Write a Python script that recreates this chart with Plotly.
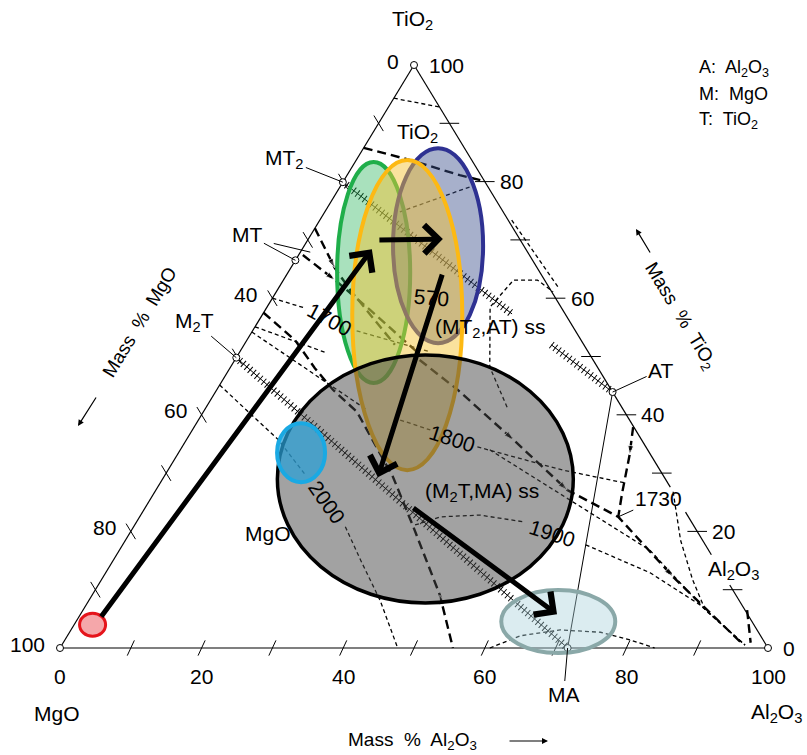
import math
import plotly.graph_objects as go

# ---------------- compositions, mass % (Al2O3, TiO2); MgO is the balance ----------------
compound_names = ["MT2", "MT", "M2T", "AT", "MA"]
compound_al2o3 = [0.0, 0.0, 0.0, 56.1, 71.7]
compound_tio2 = [79.9, 66.5, 49.8, 43.9, 0.0]

vertex_al2o3 = [0.0, 100.0, 0.0]      # MgO, Al2O3, TiO2 corners
vertex_tio2 = [0.0, 0.0, 100.0]

tick_values = [10, 20, 30, 40, 50, 60, 70, 80, 90]
al2o3_labels = [0, 20, 40, 60, 80, 100]
tio2_labels = [0, 20, 40, 60, 80, 100]
mgo_labels = [100, 80, 60, 40, 0]

# right edge is interrupted where labels sit (TiO2 % ranges that are drawn)
right_edge_runs = [(100.0, 27.6), (23.3, 16.0), (10.8, 0.0)]

# primary-field boundaries (heavy dashes)
bnd_tio2 = [(0, 85.8), (7.6, 83.7), (15.9, 81.1), (19.9, 80.1)]
bnd_mt_a = [(0, 72.0), (6.2, 65.2), (10.3, 61.4), (21.3, 52.0)]
bnd_mt_b = [(0.6, 67.4), (7.3, 63.1), (14.8, 58.0), (25.7, 50.3)]
bnd_mgo_spinel = [(0, 57.5), (6.8, 52.8), (12.0, 48.0), (16.4, 44.3), (21.7, 40.5),
                  (32.4, 29.3), (39.5, 20.8), (49.1, 9.1), (55.5, 0)]
bnd_spinel_at = [(26.1, 49.4), (34.0, 44.3), (46.2, 35.7), (58.1, 27.1),
                 (67.6, 22.5), (80.5, 12.2), (96.3, 0.5)]
bnd_at_1730 = [(62.0, 37.9), (63.9, 33.1), (66.1, 26.6), (67.6, 22.5)]
bnd_corner = [(93.8, 6.5), (97.1, 0.9)]

# isotherms and minor boundaries (light dashes)
iso_top = [(0, 94.3), (7.2, 92.8)]
iso_upper = [(10.6, 74.8), (18.9, 79.4)]
iso_1700_a = [(0, 60.0), (5.5, 58.3)]
iso_1700_b = [(14.7, 54.4), (26.9, 50.8)]
iso_m2t_a = [(0, 55.1), (12.4, 50.6)]
iso_m2t_b = [(0, 54.2), (23.0, 40.8)]
iso_2000_a = [(0, 45.1), (13.0, 35.7), (19.8, 29.7)]
iso_2000_b = [(29.9, 20.8), (34.9, 15.1), (41.1, 8.2), (47.7, 0)]
iso_1800_a = [(28.5, 39.1), (33.6, 37.4)]
iso_1800_b = [(41.7, 34.5), (55.8, 30.5), (65.7, 28.3)]
iso_1900_a = [(39.6, 21.1), (42.5, 22.5), (47.9, 22.8), (54.9, 21.6)]
iso_1900_b = [(65.4, 17.7), (76.9, 12.9), (86.7, 7.4), (96.5, 0.5)]
iso_lower = [(43.7, 34.0), (57.9, 26.2), (74.9, 16.8), (87.3, 7.0), (96.5, 0.5)]
iso_right = [(73.2, 26.8), (78.4, 18.5), (83.5, 11.7), (87.9, 6.5), (96.5, 0.5)]
iso_spinel_dome = [(60.7, 0), (64.0, 2.1), (69.1, 3.1), (75.0, 2.7), (79.8, 1.4), (84.0, 0)]
iso_ss_arc = [(42.5, 41.3), (36.6, 48.2), (31.5, 58.5), (32.5, 63.1), (35.9, 63.1), (39.1, 61.1)]
iso_at_side = [(27.1, 73.4), (39.4, 61.9)]

# solid-solution joins (hatched)
ss_m2t_ma = [(0.0, 49.8), (71.7, 0.0)]
ss_mt2_at_a = [(0.0, 79.9), (35.2, 57.3)]
ss_mt2_at_b = [(43.4, 52.0), (56.1, 43.9)]

# tie line AT - MA
tie_at_ma = [(56.1, 43.9), (71.7, 0.0)]

# highlighted composition regions: centre (Al2O3, TiO2) and half extents
region_names = ["green", "blue", "yellow", "grey", "cyan", "teal", "red"]
region_al2o3 = [12.1, 18.9, 20.5, 37.1, 17.3, 68.1, 2.6]
region_tio2 = [64.4, 69.0, 57.1, 29.0, 33.5, 4.55, 4.0]
region_half_x = [5.16, 6.36, 7.77, 20.9, 3.39, 8.05, 1.84]
region_half_ti = [18.95, 16.72, 26.59, 21.27, 5.06, 5.40, 1.97]

# path arrows between regions (tail -> head), (Al2O3, TiO2)
arrow_tail = [(3.1, 5.15), (9.9, 70.0), (21.9, 64.3), (37.6, 24.2)]
arrow_head = [(9.85, 68.4), (19.0, 70.15), (30.25, 29.3), (67.3, 5.8)]

# ---------------- geometry of the drawing ----------------
W, H = 807, 755
LEFT_PX, RIGHT_PX, BASE_PX, APEX_PX = 60, 768, 648, 65
SX = (RIGHT_PX - LEFT_PX) / 100.0
SY = (BASE_PX - APEX_PX) / 100.0
X_RANGE = [-LEFT_PX / SX, (W - LEFT_PX) / SX]
Y_RANGE = [-(H - BASE_PX) / SY, BASE_PX / SY]
EDGE_DEG = math.degrees(math.atan2(100 * SY, 50 * SX))
FONT = "Liberation Sans, Arial, sans-serif"
FS = 21


def cart(al, ti):
    return al + ti / 2.0, ti


def xs_ys(points):
    return [p[0] + p[1] / 2.0 for p in points], [p[1] for p in points]


def paper(px, py):
    return px / W, 1 - py / H


fig = go.Figure()


def add_line(points, width=1.2, dash="solid", color="black"):
    x, y = xs_ys(points)
    fig.add_trace(go.Scatter(x=x, y=y, mode="lines", hoverinfo="skip",
                             line=dict(color=color, width=width, dash=dash)))


def add_flow_arrow(points, idx, reverse=False):
    # small arrowhead on a boundary, pointing along the boundary at vertex idx
    prev = points[idx + 1] if reverse else points[idx - 1]
    x, y = xs_ys([prev, points[idx]])
    fig.add_trace(go.Scatter(x=x, y=y, mode="markers", hoverinfo="skip",
                             marker=dict(symbol="arrow", angleref="previous",
                                         size=[0, 10], color="black")))


# triangle edges
add_line([(vertex_al2o3[0], vertex_tio2[0]), (vertex_al2o3[2], vertex_tio2[2])])
add_line([(vertex_al2o3[0], vertex_tio2[0]), (vertex_al2o3[1], vertex_tio2[1])])
for t0, t1 in right_edge_runs:
    add_line([(100 - t0, t0), (100 - t1, t1)])

# tie line
add_line(tie_at_ma, width=1.0)

# heavy dashed boundaries
for pts in [bnd_tio2, bnd_mt_a, bnd_mt_b, bnd_mgo_spinel, bnd_spinel_at, bnd_at_1730, bnd_corner]:
    add_line(pts, width=2.4, dash="9px,5px")
add_flow_arrow(bnd_mt_a, 1)
add_flow_arrow(bnd_mt_b, 1)
add_flow_arrow(bnd_mgo_spinel, 7, reverse=True)
add_flow_arrow(bnd_spinel_at, 2)
add_flow_arrow(bnd_spinel_at, 3)
add_flow_arrow(bnd_spinel_at, 5)
add_flow_arrow(bnd_at_1730, 1)

# light dashed isotherms
for pts in [iso_top, iso_upper, iso_1700_a, iso_1700_b, iso_m2t_a, iso_m2t_b, iso_2000_a,
            iso_2000_b, iso_1800_a, iso_1800_b, iso_1900_a, iso_1900_b, iso_lower,
            iso_right, iso_spinel_dome, iso_ss_arc, iso_at_side]:
    add_line(pts, width=1.3, dash="4px,3px")

# hatched solid-solution lines
for pts in [ss_m2t_ma, ss_mt2_at_a, ss_mt2_at_b]:
    add_line(pts, width=1.0)
    add_line(pts, width=8, dash="1px,3.5px")

# edge ticks
lx, ly = xs_ys([(0, 100 - v) for v in tick_values])
fig.add_trace(go.Scatter(x=lx, y=ly, mode="markers", hoverinfo="skip",
                         marker=dict(symbol="line-ns", size=13, angle=-(90 - EDGE_DEG),
                                     line=dict(color="black", width=1))))
rx, ry = xs_ys([(100 - v, v) for v in tick_values])
fig.add_trace(go.Scatter(x=rx, y=ry, mode="markers", hoverinfo="skip",
                         marker=dict(symbol="line-ew", size=14,
                                     line=dict(color="black", width=1))))
bx, by = xs_ys([(v, 0) for v in tick_values])
fig.add_trace(go.Scatter(x=bx, y=by, mode="markers", hoverinfo="skip",
                         marker=dict(symbol="line-ns", size=12, angle=25,
                                     line=dict(color="black", width=1))))

# corners and compounds
cx, cy = xs_ys(list(zip(vertex_al2o3 + compound_al2o3, vertex_tio2 + compound_tio2)))
fig.add_trace(go.Scatter(x=cx, y=cy, mode="markers", hoverinfo="skip",
                         marker=dict(symbol="circle", size=7, color="white",
                                     line=dict(color="black", width=1))))

# highlighted regions
region_fill = ["rgba(40,180,90,0.40)", "rgba(60,80,140,0.45)", "rgba(245,195,50,0.48)",
               "rgba(70,70,70,0.50)", "rgba(40,160,215,0.72)", "rgba(170,210,220,0.42)",
               "rgba(240,120,125,0.65)"]
region_line = ["#1fae4a", "#2e3192", "#fdb913", "#000000", "#1aa9e3", "#8aa8a8", "#e5141b"]
region_width = [4, 4, 4, 3.5, 4, 4, 3]
shapes = []
for i in range(len(region_names)):
    xc, yc = cart(region_al2o3[i], region_tio2[i])
    shapes.append(dict(type="circle", xref="x", yref="y",
                       x0=xc - region_half_x[i], x1=xc + region_half_x[i],
                       y0=yc - region_half_ti[i], y1=yc + region_half_ti[i],
                       fillcolor=region_fill[i],
                       line=dict(color=region_line[i], width=region_width[i])))

ann = []


def label(al, ti, text, size=FS, angle=0, **kw):
    x, y = cart(al, ti)
    d = dict(x=x, y=y, xref="x", yref="y", text=text, showarrow=False, textangle=angle,
             xanchor="center", yanchor="middle",
             font=dict(size=size, color="black", family=FONT))
    d.update(kw)
    ann.append(d)


def plabel(px, py, text, size=FS, angle=0, **kw):
    x, y = paper(px, py)
    d = dict(x=x, y=y, xref="paper", yref="paper", text=text, showarrow=False,
             textangle=angle, xanchor="center", yanchor="middle",
             font=dict(size=size, color="black", family=FONT))
    d.update(kw)
    ann.append(d)


def parrow(px_head, py_head, px_tail, py_tail):
    x, y = paper(px_head, py_head)
    ann.append(dict(x=x, y=y, xref="paper", yref="paper", ax=px_tail - px_head,
                    ay=py_tail - py_head, text="", showarrow=True, arrowhead=2,
                    arrowsize=1, arrowwidth=1.2, arrowcolor="black"))


# tick labels
for v in al2o3_labels:
    label(v, 0, str(v), yshift=-28)
for v in tio2_labels:
    label(100 - v, v, str(v), xanchor="left", xshift=13)
for v in mgo_labels:
    label(0, 100 - v, str(v), xanchor="right", xshift=-13, yshift=4)

# corner names, axis titles, key
plabel(413, 20, "TiO<sub>2</sub>")
plabel(57, 713, "MgO")
plabel(776, 713, "Al<sub>2</sub>O<sub>3</sub>")
plabel(412, 741, "Mass  %  Al<sub>2</sub>O<sub>3</sub>", size=19)
parrow(548, 741, 508, 741)
plabel(139, 322, "Mass  %  MgO", size=19, angle=-EDGE_DEG)
parrow(78, 426, 97, 396)
plabel(680, 316, "Mass  %  TiO<sub>2</sub>", size=19, angle=EDGE_DEG)
parrow(636, 229, 651, 254)
plabel(697, 68, "A:  Al<sub>2</sub>O<sub>3</sub>", size=18, xanchor="left")
plabel(697, 94, "M:  MgO", size=18, xanchor="left")
plabel(697, 120, "T:  TiO<sub>2</sub>", size=18, xanchor="left")

# field labels and isotherm temperatures
label(6.4, 88.3, "TiO<sub>2</sub>")
label(19.55, 19.7, "MgO")
label(88.4, 13.4, "Al<sub>2</sub>O<sub>3</sub>")
label(33.25, 54.9, "(MT<sub>2</sub>,AT) ss")
label(46.2, 26.8, "(M<sub>2</sub>T,MA) ss")
label(9.95, 56.3, "1700", angle=28)
label(22.4, 60.2, "570", angle=5)
label(37.4, 36.0, "1800", angle=18)
label(59.75, 19.7, "1900", angle=18)
label(25.25, 24.9, "2000", angle=55)


# compound labels with leader lines
def leader(al, ti, text, dx, dy):
    x, y = cart(al, ti)
    ann.append(dict(x=x, y=y, xref="x", yref="y", text=text, ax=dx, ay=dy,
                    showarrow=True, arrowhead=0, arrowwidth=1, arrowcolor="black",
                    font=dict(size=FS, color="black", family=FONT)))


leader(compound_al2o3[0], compound_tio2[0], "MT<sub>2</sub>", -58, -23)
leader(compound_al2o3[1], compound_tio2[1], "MT", -48, -26)
leader(1.4, 67.9, "", -38, -9)
leader(compound_al2o3[2], compound_tio2[2], "M<sub>2</sub>T", -42, -36)
leader(compound_al2o3[3], compound_tio2[3], "AT", 48, -22)
leader(compound_al2o3[4], compound_tio2[4], "MA", -4, 46)
leader(bnd_at_1730[-1][0], bnd_at_1730[-1][1], "1730", 40, -18)

# heavy path arrows
for (ta, tt), (ha, ht) in zip(arrow_tail, arrow_head):
    x0, y0 = cart(ta, tt)
    x1, y1 = cart(ha, ht)
    ann.append(dict(x=x1, y=y1, ax=x0, ay=y0, xref="x", yref="y", axref="x", ayref="y",
                    text="", showarrow=True, arrowhead=4, arrowsize=1.1, arrowwidth=5,
                    arrowcolor="black"))

fig.update_layout(
    width=W, height=H, margin=dict(l=0, r=0, t=0, b=0),
    paper_bgcolor="white", plot_bgcolor="white", showlegend=False,
    xaxis=dict(range=X_RANGE, visible=False, fixedrange=True),
    yaxis=dict(range=Y_RANGE, visible=False, fixedrange=True),
    shapes=shapes, annotations=ann,
    font=dict(family=FONT, color="black"),
)

fig.write_html("out.html")
